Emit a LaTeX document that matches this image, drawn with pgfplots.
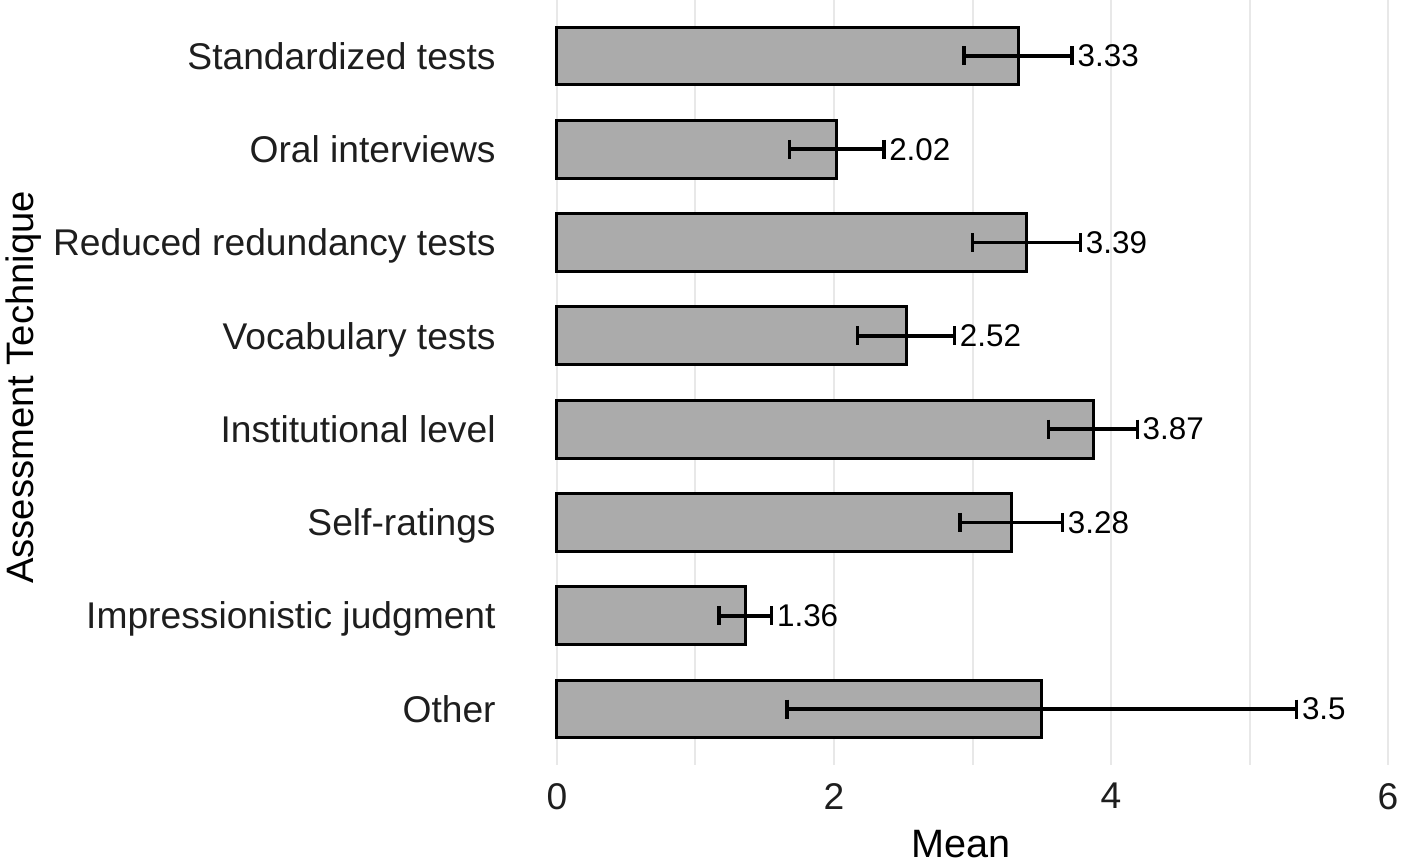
\documentclass[border=0pt]{standalone}
\usepackage{fontspec}
\setmainfont{Liberation Sans}
\usepackage{pgfplots}
\usepackage{pgfplotstable}
\pgfplotsset{compat=1.18}

\definecolor{barfill}{RGB}{171,171,171}
\definecolor{gridcol}{RGB}{232,232,232}
\definecolor{txt}{RGB}{30,30,30}

% idx: position from the bottom, hi = mean + err (where the label sits)
\pgfplotstableread{
idx mean err hi lbl
7 3.33 0.39 3.72 3.33
6 2.02 0.34 2.36 2.02
5 3.39 0.39 3.78 3.39
4 2.52 0.35 2.87 2.52
3 3.87 0.32 4.19 3.87
2 3.28 0.37 3.65 3.28
1 1.36 0.19 1.55 1.36
0 3.50 1.84 5.34 3.5
}\techdata

% error bar ends (mean - err, mean + err), one segment per bar
\pgfplotstableread{
x y
2.94 7
3.72 7
nan nan
1.68 6
2.36 6
nan nan
3.00 5
3.78 5
nan nan
2.17 4
2.87 4
nan nan
3.55 3
4.19 3
nan nan
2.91 2
3.65 2
nan nan
1.17 1
1.55 1
nan nan
1.66 0
5.34 0
}\errdata

\begin{document}
\begin{tikzpicture}
\begin{axis}[
  scale only axis,
  width=434.2pt, height=382.5pt,
  xmin=-0.27, xmax=6,
  ymin=-0.6, ymax=7.6,
  clip=false,
  unbounded coords=jump,
  axis line style={draw=none},
  major tick length=0pt, minor tick length=0pt,
  xtick={0,2,4,6}, minor xtick={1,3,5},
  xmajorgrids, xminorgrids,
  major grid style={gridcol, line width=1pt},
  minor grid style={gridcol, line width=1pt},
  ytick={0,...,7},
  yticklabels={Other, Impressionistic judgment, Self-ratings, Institutional level,
    Vocabulary tests, Reduced redundancy tests, Oral interviews, Standardized tests},
  xticklabel style={font=\fontsize{18.6}{20}\selectfont, text=txt,
    inner sep=0pt, anchor=north, yshift=-9pt,
    /pgf/number format/assume math mode=true},
  yticklabel style={font=\fontsize{18.6}{20}\selectfont, text=txt,
    inner sep=0pt, anchor=base east, xshift=-11.8pt, yshift=-6.6pt},
  xlabel={Mean},
  xlabel style={at={(axis description cs:0.508,0)}, anchor=base,
    yshift=-46.5pt, inner sep=0pt, font=\fontsize{19.8}{22}\selectfont},
  ylabel={Assessment Technique},
  ylabel style={at={(axis description cs:-0.5603,0.4935)}, anchor=base,
    inner sep=0pt, font=\fontsize{19.1}{22}\selectfont},
]
\addplot[xbar, bar width=0.62, fill=barfill, draw=black, line width=1.5pt]
  table[x=mean, y=idx] {\techdata};

% error bars as capped segments
\addplot[black, line width=1.8pt, mark=|, mark size=4.75pt,
  mark options={solid, line width=1.8pt}]
  table[x=x, y=y] {\errdata};

\addplot[draw=none, mark=none, nodes near coords, point meta=explicit symbolic,
  nodes near coords style={anchor=west, inner sep=2.5pt, text=black,
    font=\fontsize{15.7}{18}\selectfont}]
  table[x=hi, y=idx, meta=lbl] {\techdata};
\end{axis}
\pgfresetboundingbox
\path[use as bounding box] ([xshift=-259.8pt,yshift=-49.5pt]current axis.south west)
  rectangle ([xshift=6.5pt]current axis.north east);
\end{tikzpicture}
\end{document}
